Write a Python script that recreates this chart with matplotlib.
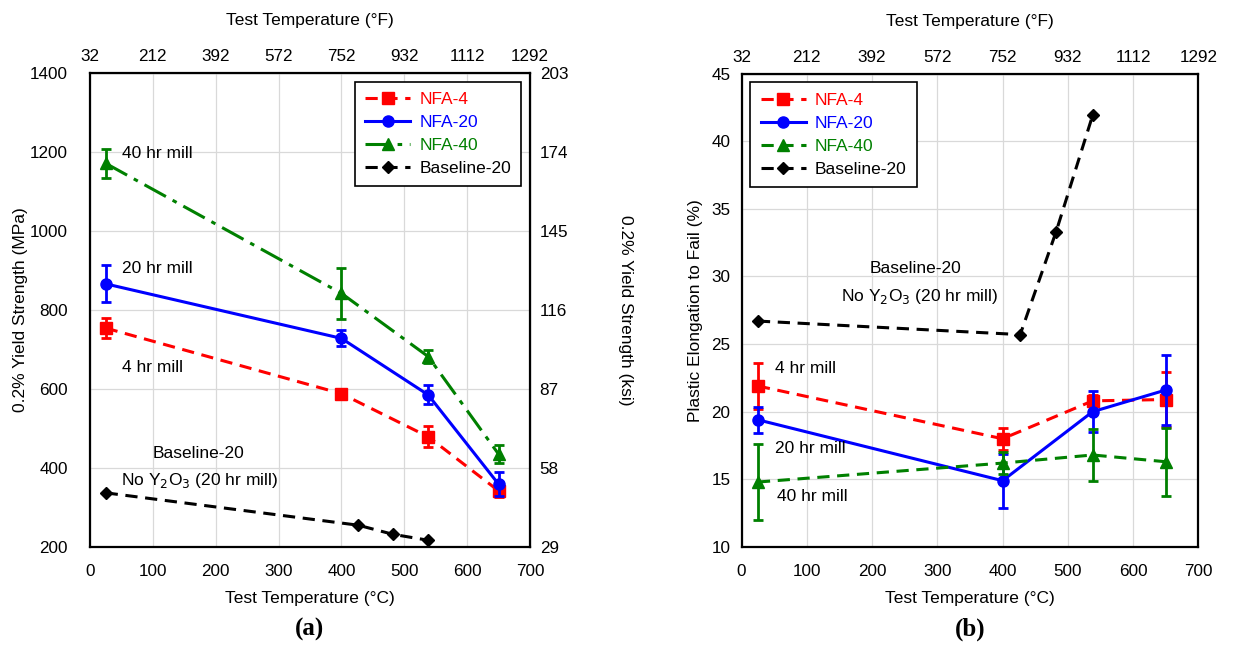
#importing required
import numpy as np
import matplotlib
matplotlib.use('Agg')
import matplotlib.pyplot as plt

plt.rcParams['font.family'] = ['Liberation Sans', 'DejaVu Sans']
plt.rcParams['font.size'] = 12

#data
temp_c = [25, 400, 538, 650]
base_temp_c = [25, 427, 482, 538]

# (a) yield strength, MPa
ys_nfa4 = [754, 588, 479, 342]
ys_nfa4_err = [26, 10, 26, 15]
ys_nfa20 = [866, 728, 585, 359]
ys_nfa20_err = [47, 20, 24, 30]
ys_nfa40 = [1171, 842, 682, 435]
ys_nfa40_err = [37, 65, 17, 22]
ys_base = [337, 255, 232, 217]

# (b) plastic elongation, %
el_nfa4 = [21.9, 18.0, 20.8, 20.9]
el_nfa4_err = [1.7, 0.8, 0.4, 2.0]
el_nfa20 = [19.4, 14.9, 20.0, 21.6]
el_nfa20_err = [0.95, 2.0, 1.5, 2.6]
el_nfa40 = [14.8, 16.2, 16.8, 16.3]
el_nfa40_err = [2.8, 0.8, 1.9, 2.5]
el_base = [26.7, 25.7, 33.3, 41.9]

c_ticks = [0, 100, 200, 300, 400, 500, 600, 700]
f_ticks = [32, 212, 392, 572, 752, 932, 1112, 1292]
mpa_ticks = [200, 400, 600, 800, 1000, 1200, 1400]
ksi_labels = ['29', '58', '87', '116', '145', '174', '203']
el_ticks = [10, 15, 20, 25, 30, 35, 40, 45]

TICK = 12.3
LAB = 12.5

def c2f(c):
    return np.asarray(c) * 9.0 / 5.0 + 32

def f2c(f):
    return (np.asarray(f) - 32) * 5.0 / 9.0

fig = plt.figure(figsize=(12.36, 6.45), dpi=100)
ax1 = fig.add_axes([0.0728, 0.152, 0.356, 0.735])
ax2 = fig.add_axes([0.600, 0.152, 0.3695, 0.734])

dash = (0, (4, 2.5))
dashdot = (0, (8, 2.5, 1.5, 2.5))

def series(ax, x, y, err, color, marker, ls, label, ms=8):
    ax.plot(x, y, color=color, marker=marker, ls=ls, lw=2.2, ms=ms, label=label, zorder=3)
    if err is not None:
        ax.errorbar(x, y, yerr=err, fmt='none', ecolor=color, elinewidth=2,
                    capsize=3.5, capthick=2, zorder=3)

def style(ax, ypad):
    ax.set_xlim(0, 700)
    ax.set_xticks(c_ticks)
    ax.grid(True, color='#d9d9d9', lw=0.9)
    ax.set_axisbelow(True)
    ax.tick_params(axis='x', length=0, pad=12, labelsize=TICK)
    ax.tick_params(axis='y', length=0, pad=ypad, labelsize=TICK)
    for s in ax.spines.values():
        s.set_linewidth(1.6)
    ax.set_xlabel('Test Temperature (°C)', fontsize=LAB, labelpad=9)
    top = ax.secondary_xaxis('top', functions=(c2f, f2c))
    top.set_xticks(f_ticks)
    top.tick_params(length=0, pad=6.5, labelsize=TICK)
    top.set_xlabel('Test Temperature (°F)', fontsize=LAB, labelpad=17)
    return top

def legend(ax, loc):
    leg = ax.legend(loc=loc, fontsize=LAB, fancybox=False, edgecolor='black',
                    framealpha=1, handlelength=2.6, borderpad=0.6, labelspacing=0.45,
                    handletextpad=0.5)
    leg.get_frame().set_linewidth(1.2)
    for t, c in zip(leg.get_texts(), ['red', 'blue', 'green', 'black']):
        t.set_color(c)

#plot (a)
series(ax1, temp_c, ys_nfa4, ys_nfa4_err, 'red', 's', dash, 'NFA-4')
series(ax1, temp_c, ys_nfa20, ys_nfa20_err, 'blue', 'o', '-', 'NFA-20')
series(ax1, temp_c, ys_nfa40, ys_nfa40_err, 'green', '^', dashdot, 'NFA-40')
series(ax1, base_temp_c, ys_base, None, 'black', 'D', dash, 'Baseline-20', ms=6.5)
style(ax1, 16)
ax1.set_ylim(200, 1400)
ax1.set_yticks(mpa_ticks)
ax1.set_ylabel('0.2% Yield Strength (MPa)', fontsize=LAB, labelpad=1.5)
ax1r = ax1.secondary_yaxis('right')
ax1r.set_yticks(mpa_ticks)
ax1r.set_yticklabels(ksi_labels)
ax1r.tick_params(length=0, pad=7, labelsize=TICK)
ax1r.set_ylabel('0.2% Yield Strength (ksi)', fontsize=LAB, rotation=270, labelpad=47)
legend(ax1, 'upper right')
ax1.text(51, 1195, '40 hr mill', va='center', fontsize=LAB)
ax1.text(51, 904, '20 hr mill', va='center', fontsize=LAB)
ax1.text(51, 653, '4 hr mill', va='center', fontsize=LAB)
ax1.text(172, 437, 'Baseline-20', ha='center', va='center', fontsize=LAB)
ax1.text(174, 367, 'No Y$_2$O$_3$ (20 hr mill)', ha='center', va='center', fontsize=LAB)
fig.text(0.2506, 0.024, '(a)', ha='center', va='center', fontsize=18, fontweight='bold', family='Liberation Serif')

#plot (b)
series(ax2, temp_c, el_nfa4, el_nfa4_err, 'red', 's', dash, 'NFA-4')
series(ax2, temp_c, el_nfa20, el_nfa20_err, 'blue', 'o', '-', 'NFA-20')
series(ax2, temp_c, el_nfa40, el_nfa40_err, 'green', '^', dash, 'NFA-40')
series(ax2, base_temp_c, el_base, None, 'black', 'D', dash, 'Baseline-20', ms=6.5)
style(ax2, 8)
ax2.set_ylim(10, 45)
ax2.set_yticks(el_ticks)
ax2.set_ylabel('Plastic Elongation to Fail (%)', fontsize=LAB, labelpad=6)
legend(ax2, 'upper left')
ax2.text(267, 30.6, 'Baseline-20', ha='center', va='center', fontsize=LAB)
ax2.text(272, 28.5, 'No Y$_2$O$_3$ (20 hr mill)', ha='center', va='center', fontsize=LAB)
ax2.text(51, 23.2, '4 hr mill', va='center', fontsize=LAB)
ax2.text(51, 17.3, '20 hr mill', va='center', fontsize=LAB)
ax2.text(54, 13.7, '40 hr mill', va='center', fontsize=LAB)
fig.text(0.785, 0.024, '(b)', ha='center', va='center', fontsize=18, fontweight='bold', family='Liberation Serif')

plt.savefig('out.png', dpi=100)
